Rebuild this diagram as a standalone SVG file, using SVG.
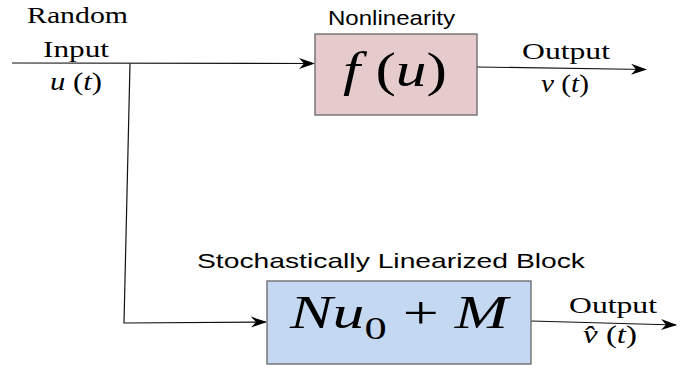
<svg xmlns="http://www.w3.org/2000/svg" width="697" height="368" viewBox="0 0 697 368">
<style>
.serif{font-family:"Liberation Serif","DejaVu Serif",serif;fill:#000}
.it{font-style:italic}
.sans{font-family:"Liberation Sans",Arial,sans-serif;fill:#000}
.line{stroke:#111;stroke-width:1.2;fill:none}
.box{stroke:#666;stroke-width:1.3}
</style>
<defs>
<marker id="arr" markerWidth="16" markerHeight="12" refX="15" refY="6" orient="auto" markerUnits="userSpaceOnUse">
<path d="M0,0.5 L16,6 L0,11.5 L5,6 Z" fill="#000"/>
</marker>
</defs>
<g id="connectors">
<path class="line" d="M12,63 L314,63.5" marker-end="url(#arr)"/>
<path class="line" d="M477,67 L646,69.5" marker-end="url(#arr)"/>
<path class="line" d="M130,63.5 L124,323 L266,322" marker-end="url(#arr)"/>
<path class="line" d="M531,321 L676,325" marker-end="url(#arr)"/>
</g>
<g id="input-label">
<text class="serif" x="27" y="23" font-size="24" textLength="101" lengthAdjust="spacingAndGlyphs">Random</text>
<text class="serif" x="43" y="57" font-size="24" textLength="66" lengthAdjust="spacingAndGlyphs">Input</text>
<text class="serif" x="50" y="90" font-size="25" textLength="52" lengthAdjust="spacingAndGlyphs"><tspan class="it">u</tspan> (<tspan class="it">t</tspan>)</text>
</g>
<g id="nonlinearity">
<text class="sans" x="328" y="25" font-size="21" textLength="127" lengthAdjust="spacingAndGlyphs">Nonlinearity</text>
<rect class="box" x="315" y="34" width="162" height="81" fill="#e6cbcd"/>
<text class="serif" x="343" y="86" font-size="48" textLength="104" lengthAdjust="spacingAndGlyphs"><tspan class="it">f</tspan> (<tspan class="it">u</tspan>)</text>
</g>
<g id="output1">
<text class="serif" x="522" y="59" font-size="24" textLength="88" lengthAdjust="spacingAndGlyphs">Output</text>
<text class="serif" x="541" y="92" font-size="25" textLength="48" lengthAdjust="spacingAndGlyphs"><tspan class="it">v</tspan> (<tspan class="it">t</tspan>)</text>
</g>
<g id="linearized">
<text class="sans" x="197" y="268" font-size="21" textLength="388" lengthAdjust="spacingAndGlyphs">Stochastically Linearized Block</text>
<rect class="box" x="267" y="281" width="264" height="83" fill="#c5d8f1"/>
<text class="serif" x="290" y="328" font-size="46" textLength="218" lengthAdjust="spacingAndGlyphs"><tspan class="it">Nu</tspan><tspan font-size="32" dy="11">0</tspan><tspan dy="-11"> + </tspan><tspan class="it">M</tspan></text>
</g>
<g id="output2">
<text class="serif" x="569" y="313" font-size="24" textLength="88" lengthAdjust="spacingAndGlyphs">Output</text>
<text class="serif" x="583" y="343" font-size="25" textLength="54" lengthAdjust="spacingAndGlyphs"><tspan class="it">v̂</tspan> (<tspan class="it">t</tspan>)</text>
</g>
</svg>
